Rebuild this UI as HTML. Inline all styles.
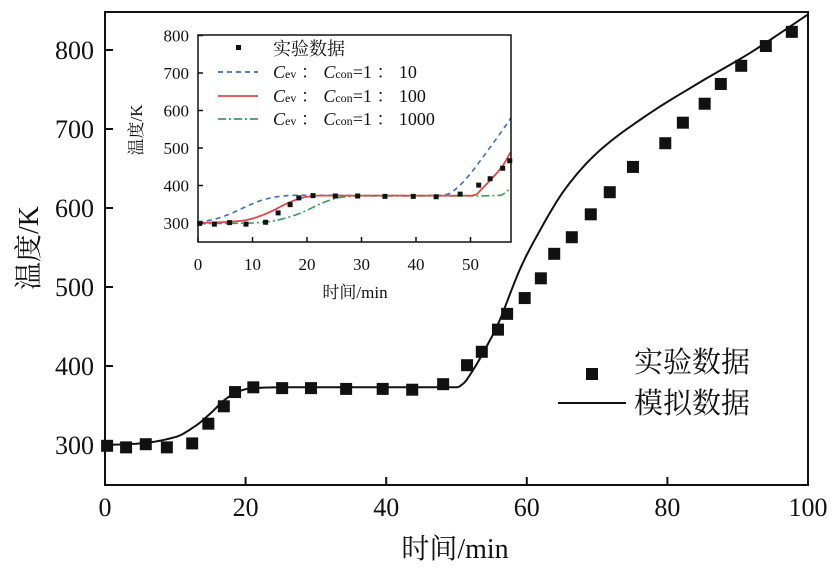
<!DOCTYPE html>
<html><head><meta charset="utf-8"><style>
body{margin:0;background:#fff}
text{font-family:"Liberation Serif","Noto Serif CJK SC",serif;fill:#111}
</style></head><body>
<svg id="c" width="838" height="573" xmlns="http://www.w3.org/2000/svg"></svg>
<script>
const expT=[0.3,3.0,5.8,8.8,12.4,14.7,16.9,18.5,21.1,25.2,29.3,34.3,39.5,43.7,48.1,51.5,53.6,55.9,57.2,59.7,62,63.9,66.4,69.1,71.8,75.1,79.7,82.2,85.3,87.6,90.5,94.0,97.7];
const expV=[299,297,301,297,302,327,349,367,373,372,372,371,371,370,377,401,418,446,466,486,511,542,563,592,620,652,682,708,732,757,780,805,823];
const simT=[0,5,10,13,15,17,19,21,25,50,51,52,54,56,57,58,59,60.9,65.7,70.4,77.5,84.6,91.7,100];
const simV=[300,302,310,325,340,357,368,372,373,373,378,390,420,455,477,500,522,556,627,673,720,759,796,845];
const c10T=[0,3,6,9,12,15,18,22,30,44,46,48,50,52,54,56,57.4];
const c10V=[302,310,325,345,362,371,374,374,373,373,378,400,432,470,510,550,580];
const c100T=[0,4,8,10,12,14,16,18,20,22,30,50,51,52,54,56,57.4];
const c100V=[300,302,306,312,322,335,350,362,370,373,373,373,376,390,420,455,490];
const c1000T=[0,6,10,12,14,16,18,20,22,24,26,30,50,54,55.5,56.5,57.4];
const c1000V=[298,299,300,302,306,313,322,334,348,360,368,372,372,373,374,382,396];
const mainXTicks=[0,20,40,60,80,100];
const mainYTicks=[300,400,500,600,700,800];
const inXTicks=[0,10,20,30,40,50];
const inYTicks=[300,400,500,600,700,800];

const svg=document.getElementById('c');const NS='http://www.w3.org/2000/svg';
function el(t,a,p){const e=document.createElementNS(NS,t);for(const k in a)e.setAttribute(k,a[k]);(p||svg).appendChild(e);return e;}
const mx=t=>105+t*7.03, my=v=>445-(v-300)*0.79;
const ix=t=>198+t*5.45, iy=v=>223-(v-300)*0.375;
function path(T,V,fx,fy){
 const n=T.length,d=[],m=new Array(n);
 for(let i=0;i<n-1;i++)d.push((V[i+1]-V[i])/(T[i+1]-T[i]));
 m[0]=d[0];m[n-1]=d[n-2];
 for(let i=1;i<n-1;i++)m[i]=(d[i-1]*d[i]<=0)?0:2/(1/d[i-1]+1/d[i]);
 let s='M'+fx(T[0]).toFixed(1)+','+fy(V[0]).toFixed(1);
 for(let i=0;i<n-1;i++){
  const h=T[i+1]-T[i];
  for(let k=1;k<=10;k++){
   const u=k/10,h00=2*u*u*u-3*u*u+1,h10=u*u*u-2*u*u+u,h01=-2*u*u*u+3*u*u,h11=u*u*u-u*u;
   const v=h00*V[i]+h10*h*m[i]+h01*V[i+1]+h11*h*m[i+1];
   s+='L'+fx(T[i]+u*h).toFixed(1)+','+fy(v).toFixed(1);
  }
 }
 return s;
}

let e=el('rect',{x:105,y:12,width:703,height:473,fill:'none',stroke:'#111','stroke-width':2});

mainXTicks.forEach(t=>{
 let l=el('line',{x1:mx(t),x2:mx(t),y1:485,y2:477,stroke:'#111','stroke-width':2});
 
 let tx=el('text',{x:mx(t),y:516,'font-size':26,'text-anchor':'middle'});tx.textContent=t;
 
});
mainYTicks.forEach(v=>{
 let l=el('line',{x1:105,x2:113,y1:my(v),y2:my(v),stroke:'#111','stroke-width':2});
 
 let tx=el('text',{x:94,y:my(v)+9,'font-size':26,'text-anchor':'end'});tx.textContent=v;
 
});
e=el('text',{x:455,y:558,'font-size':28,'text-anchor':'middle'});e.textContent='时间/min';

e=el('text',{x:0,y:0,'font-size':28,'text-anchor':'middle',transform:'translate(38,248) rotate(-90)'});e.textContent='温度/K';


e=el('path',{d:path(simT,simV,mx,my),fill:'none',stroke:'#111','stroke-width':2});

expT.forEach((t,i)=>{
 let r=el('rect',{x:mx(t)-6,y:my(expV[i])-6,width:12,height:12,fill:'#111'});
 
});
e=el('rect',{x:586,y:368,width:12,height:12,fill:'#111'});
e=el('text',{x:634,y:372,'font-size':29});e.textContent='实验数据';
e=el('line',{x1:558,x2:626,y1:403,y2:403,stroke:'#111','stroke-width':2});
e=el('text',{x:634,y:413,'font-size':29});e.textContent='模拟数据';

const g=el('g',{});
const cp=el('clipPath',{id:'ic'},g);el('rect',{x:198,y:35,width:313,height:207},cp);
e=el('path',{d:path(c10T,c10V,ix,iy),fill:'none',stroke:'#3b6fb6','stroke-width':1.6,'stroke-dasharray':'5,4','clip-path':'url(#ic)'},g);

e=el('path',{d:path(c1000T,c1000V,ix,iy),fill:'none',stroke:'#3a9a5c','stroke-width':1.6,'stroke-dasharray':'8,3,2,3','clip-path':'url(#ic)'},g);

e=el('path',{d:path(c100T,c100V,ix,iy),fill:'none',stroke:'#e0484c','stroke-width':1.8,'clip-path':'url(#ic)'},g);

expT.forEach((t,i)=>{ if(t>57.5)return;
 let r=el('rect',{x:ix(t)-2.5,y:iy(expV[i])-2.5,width:5,height:5,fill:'#111'},g);
 
});
e=el('rect',{x:198,y:35,width:313,height:207,fill:'none',stroke:'#111','stroke-width':1.5},g);

inXTicks.forEach(t=>{
 let l=el('line',{x1:ix(t),x2:ix(t),y1:242,y2:237,stroke:'#111','stroke-width':1.5},g);
 
 let tx=el('text',{x:ix(t),y:270,'font-size':17,'text-anchor':'middle'},g);tx.textContent=t;
 
});
inYTicks.forEach(v=>{
 let l=el('line',{x1:198,x2:203,y1:iy(v),y2:iy(v),stroke:'#111','stroke-width':1.5},g);
 
 let tx=el('text',{x:189,y:iy(v)+6,'font-size':17,'text-anchor':'end'},g);tx.textContent=v;
 
});
e=el('text',{x:355,y:298,'font-size':17,'text-anchor':'middle'},g);e.textContent='时间/min';

e=el('text',{x:0,y:0,'font-size':17,'text-anchor':'middle',transform:'translate(142,130) rotate(-90)'},g);e.textContent='温度/K';

e=el('rect',{x:236,y:45,width:5,height:5,fill:'#111'},g);
e=el('text',{x:273,y:55,'font-size':18},g);e.textContent='实验数据';
const items=[['10','#3b6fb6','5,4',78],['100','#e0484c','',102],['1000','#3a9a5c','8,3,2,3',125]];
items.forEach(it=>{
 let l=el('line',{x1:218,x2:258,y1:it[3]-6,y2:it[3]-6,stroke:it[1],'stroke-width':1.8,'stroke-dasharray':it[2]||'none'},g);
 
 let tx=el('text',{x:273,y:it[3],'font-size':18},g);
 tx.innerHTML='<tspan font-style="italic">C</tspan><tspan font-size="12">ev</tspan> ： <tspan font-style="italic">C</tspan><tspan font-size="12">con</tspan>=1 ： '+it[0];
 
});
</script>
</body></html>
